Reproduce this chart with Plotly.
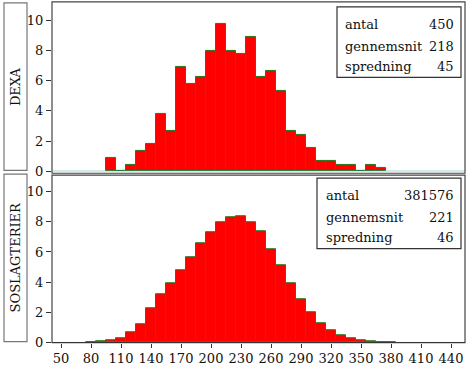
import plotly.graph_objects as go

# ---- data (percent of animals per 10-unit bin, bins centred on value) ----
dexa_bins = [100, 110, 120, 130, 140, 150, 160, 170, 180, 190, 200, 210, 220, 230,
             240, 250, 260, 270, 280, 290, 300, 310, 320, 330, 340, 350, 360, 370]
dexa_pct = [0.89, 0.0, 0.44, 1.33, 1.78, 3.78, 2.67, 6.89, 5.78, 6.22, 8.00, 9.78, 8.00, 7.78,
            8.89, 6.22, 6.67, 5.33, 2.67, 2.44, 1.56, 0.67, 0.67, 0.44, 0.44, 0.0, 0.44, 0.22]

sos_bins = [80, 90, 100, 110, 120, 130, 140, 150, 160, 170, 180, 190, 200, 210, 220, 230,
            240, 250, 260, 270, 280, 290, 300, 310, 320, 330, 340, 350, 360, 370, 380]
sos_pct = [0.02, 0.06, 0.13, 0.30, 0.69, 1.23, 2.27, 3.17, 3.93, 4.77, 5.66, 6.61, 7.34, 7.97,
           8.27, 8.40, 7.95, 7.37, 6.20, 5.14, 3.91, 2.87, 1.99, 1.30, 0.82, 0.50, 0.28, 0.15,
           0.09, 0.05, 0.04]

x_ticks = [50, 80, 110, 140, 170, 200, 230, 260, 290, 320, 350, 380, 410, 440]
y_ticks = [0, 2, 4, 6, 8, 10]

panel_names = ["DEXA", "SOSLAGTERIER"]
stat_labels = ["antal", "gennemsnit", "spredning"]
dexa_stats = ["450", "218", "45"]
sos_stats = ["381576", "221", "46"]

# ---- layout helpers ----
W, H = 472, 377
FONT = "DejaVu Serif"


def fx(p):
    return p / W


def fy(p):
    return 1 - p / H


PLOT_L, PLOT_R = 52, 465
TOP = (3, 175)
BOT = (178, 350)

fig = go.Figure()
bar_style = dict(marker=dict(color="#ff0000", line=dict(color="#1f7a1f", width=1)),
                 width=10, showlegend=False, hoverinfo="x+y")
fig.add_trace(go.Bar(x=dexa_bins, y=dexa_pct, xaxis="x", yaxis="y", **bar_style))
fig.add_trace(go.Bar(x=sos_bins, y=sos_pct, xaxis="x2", yaxis="y2", **bar_style))

xr = [41, 454]
yr = [0, 11.15]
axis_font = dict(family=FONT, size=13, color="#111")

fig.update_layout(
    width=W, height=H,
    margin=dict(l=0, r=0, t=0, b=0),
    paper_bgcolor="white", plot_bgcolor="white",
    bargap=0,
    font=axis_font,
    xaxis=dict(domain=[fx(PLOT_L), fx(PLOT_R)], range=xr, anchor="y",
               showticklabels=False, ticks="", showgrid=False, zeroline=False,
               showline=False),
    yaxis=dict(domain=[fy(TOP[1]), fy(TOP[0])], range=yr, anchor="x",
               tickvals=y_ticks, ticks="outside", ticklen=5, tickcolor="#333",
               showgrid=False, zeroline=False, showline=False, tickfont=axis_font),
    xaxis2=dict(domain=[fx(PLOT_L), fx(PLOT_R)], range=xr, anchor="y2",
                tickvals=x_ticks, ticks="outside", ticklen=4, tickcolor="#333",
                showgrid=False, zeroline=False, showline=False, tickfont=axis_font),
    yaxis2=dict(domain=[fy(BOT[1]), fy(BOT[0])], range=yr, anchor="x2",
                tickvals=y_ticks, ticks="outside", ticklen=5, tickcolor="#333",
                showgrid=False, zeroline=False, showline=False, tickfont=axis_font),
)

shapes = []
annotations = []

# plot frames
frames = [(2, 177), (179, 350)]
for (t, b) in frames:
    shapes.append(dict(type="rect", xref="paper", yref="paper",
                       x0=fx(PLOT_L), x1=fx(PLOT_R), y0=fy(b), y1=fy(t),
                       line=dict(color="#444", width=1.2), fillcolor="rgba(0,0,0,0)", layer="above"))
# teal zero line of upper panel
shapes.append(dict(type="line", xref="paper", yref="y", x0=fx(PLOT_L), x1=fx(PLOT_R), y0=0, y1=0,
                   line=dict(color="#2a9a9a", width=1), layer="above"))
# zero line of lower panel
shapes.append(dict(type="line", xref="paper", yref="y2", x0=fx(PLOT_L), x1=fx(PLOT_R), y0=0, y1=0,
                   line=dict(color="#222", width=1), layer="above"))

# side label boxes
for name, (t, b) in zip(panel_names, (TOP, BOT)):
    shapes.append(dict(type="rect", xref="paper", yref="paper",
                       x0=fx(4), x1=fx(27), y0=fy(b - 1), y1=fy(t),
                       line=dict(color="#777", width=1.2), fillcolor="white"))
    annotations.append(dict(text=name, xref="paper", yref="paper",
                            x=fx(15.5), y=fy((t + b - 1) / 2), showarrow=False, textangle=-90,
                            font=dict(family=FONT, size=13, color="#111"),
                            xanchor="center", yanchor="middle"))

# statistics boxes
boxes = [
    (dexa_stats, 337, 461, 7, 79, 343, [25, 47, 68]),
    (sos_stats, 317, 461, 182, 254, 324, [200, 222, 243]),
]
for vals, bx0, bx1, by0, by1, tx, rows in boxes:
    shapes.append(dict(type="rect", xref="paper", yref="paper",
                       x0=fx(bx0), x1=fx(bx1), y0=fy(by1), y1=fy(by0),
                       line=dict(color="#333", width=1.2), fillcolor="white", layer="above"))
    for lab, val, ry in zip(stat_labels, vals, rows):
        annotations.append(dict(text=lab, xref="paper", yref="paper", x=fx(tx), y=fy(ry),
                                showarrow=False, xanchor="left", yanchor="middle",
                                font=dict(family=FONT, size=13, color="#111")))
        annotations.append(dict(text=val, xref="paper", yref="paper", x=fx(456), y=fy(ry),
                                showarrow=False, xanchor="right", yanchor="middle",
                                font=dict(family=FONT, size=13, color="#111")))

fig.update_layout(shapes=shapes, annotations=annotations)
fig.write_html("out.html", config={"displayModeBar": False},
               post_script="document.body.style.margin='0';document.body.style.padding='0';")
